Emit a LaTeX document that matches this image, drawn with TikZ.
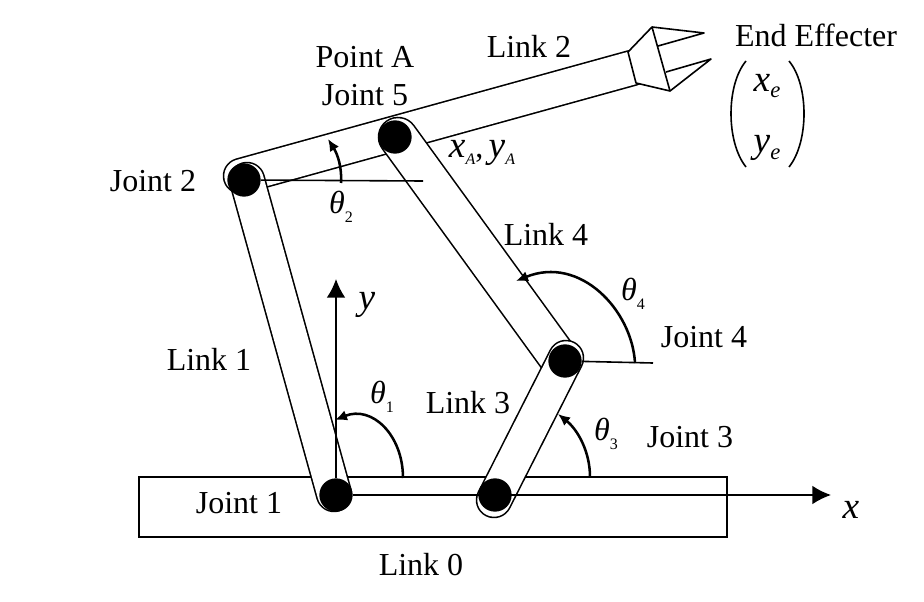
\documentclass[tikz,border=0pt]{standalone}
\usepackage{fontspec}
\setmainfont{Liberation Serif}
\usetikzlibrary{arrows.meta}
\newcommand{\bigsym}[1]{\fontsize{28}{30}\selectfont\textit{#1}}
\newcommand{\subsym}[1]{\raisebox{-5pt}{\fontsize{17}{18}\selectfont\textit{#1}}}
\newcommand{\subcap}[1]{\raisebox{-5pt}{\fontsize{12}{14}\selectfont\textit{#1}}}
\newcommand{\anglesym}[1]{{\fontsize{24}{26}\selectfont\textit{θ}}\raisebox{-7pt}{\fontsize{12}{14}\selectfont #1}}
\tikzset{
    linkbar/.style={line width=1.2pt, double=white, double distance=25pt, line cap=round},
    widebar/.style={linkbar, double distance=28pt},
    thinline/.style={line width=1.2pt},
    anglearc/.style={line width=1.9pt, -{Latex[length=9pt,width=8pt]}},
    axisline/.style={line width=1.2pt, -{Latex[length=14pt,width=14pt]}},
    joint/.style={circle, fill=black, inner sep=0pt, minimum size=25pt},
    lbl/.style={inner sep=0pt, font=\fontsize{24}{26}\selectfont},
}
\begin{document}
\begin{tikzpicture}[x=0.75pt,y=-0.75pt]
    \useasboundingbox (0,0) rectangle (924,602);
    \draw[thinline] (139,477) rectangle (727,537);
    % links, the later ones cover the earlier ones
    \draw[linkbar] (241,176) -- (632,68);
    \filldraw[thinline, fill=white, line join=round] (628,52) -- (652,27) -- (670,91) -- (636,83) -- cycle;
    \draw[thinline, line join=round] (652,27) -- (704,33) -- (658,46);
    \draw[thinline, line join=round] (670,91) -- (711,59) -- (666,72);
    \draw[widebar] (398,137) -- (557,356);
    \draw[linkbar] (247,180) -- (334,494);
    \draw[linkbar] (494,500) -- (566,358);
    % joints
    \node[joint] (joint1) at (336,495) {};
    \node[joint] (joint2) at (244,180) {};
    \node[joint] (joint3) at (495,495) {};
    \node[joint] (joint4) at (565,361) {};
    \node[joint] (joint5) at (395,137) {};
    % axes and reference lines
    \coordinate (xtip) at (831,495);
    \coordinate (ytip) at (336,279);
    \coordinate (ref2) at (423,181);
    \coordinate (ref4) at (653,363);
    \draw[axisline] (joint1) -- (xtip);
    \draw[axisline] (joint1) -- (ytip);
    \draw[thinline] (joint2) -- (ref2);
    \draw[thinline] (joint4) -- (ref4);
    % angles
    \draw[anglearc] (403,478) .. controls (403,435) and (372,405) .. (335,420);
    \draw[anglearc] (341,183) .. controls (342,168) and (338,155) .. (328,139);
    \draw[anglearc] (590,477) .. controls (590,452) and (578,430) .. (558,414);
    \draw[anglearc] (635,363) .. controls (632,310) and (580,255) .. (516,281);
    % end effector vector
    \draw[thinline] (746,61) .. controls (726,85) and (726,142) .. (746,167);
    \draw[thinline] (789,61) .. controls (809,85) and (809,142) .. (789,167);
    % labels
    \node[lbl] (labelee) at (816,35) {End Effecter};
    \node[lbl] (labelxe) at (767,86) {\bigsym{x}\subsym{e}};
    \node[lbl] (labelye) at (767,148) {\bigsym{y}\subsym{e}};
    \node[lbl] (labela) at (365,57) {Point A};
    \node[lbl] (label5) at (365,95) {Joint 5};
    \node[lbl] (link2) at (529,46) {Link 2};
    \node[lbl] (label2) at (153,181) {Joint 2};
    \node[lbl] (labelxa) at (482,153) {\bigsym{x}\subcap{A}\bigsym{\fontsize{24}{26}\selectfont\upshape ,\,}\bigsym{y}\subcap{A}};
    \node[lbl] (theta2) at (341,207) {\anglesym{2}};
    \node[lbl] (link4) at (546,234) {Link 4};
    \node[lbl] (link1) at (209,359) {Link 1};
    \node[lbl] (labely) at (367,305) {\bigsym{y}};
    \node[lbl] (theta4) at (633,294) {\anglesym{4}};
    \node[lbl] (label4) at (704,337) {Joint 4};
    \node[lbl] (theta1) at (382,397) {\anglesym{1}};
    \node[lbl] (link3) at (468,403) {Link 3};
    \node[lbl] (theta3) at (606,434) {\anglesym{3}};
    \node[lbl] (label3) at (690,437) {Joint 3};
    \node[lbl] (label1) at (239,503) {Joint 1};
    \node[lbl] (labelx) at (851,510) {\bigsym{x}};
    \node[lbl] (link0) at (421,565) {Link 0};
\end{tikzpicture}
\end{document}
